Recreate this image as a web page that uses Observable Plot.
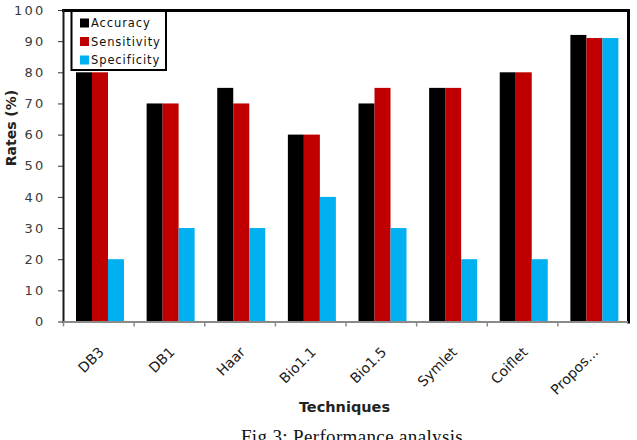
<!DOCTYPE html>
<html>
<head>
<meta charset="utf-8">
<script src="https://cdn.jsdelivr.net/npm/d3@7"></script>
<script src="https://cdn.jsdelivr.net/npm/@observablehq/plot@0.6"></script>
<style>
  body { margin: 0; background: #fff; }
  #chart svg { display: block; }
  .perf [aria-label="y-axis tick label"] text { letter-spacing: 2.2px; }
  .perf [aria-label="technique label"] text { letter-spacing: 0.8px; }
  .caption {
    font-family: "Liberation Serif", "Times New Roman", serif;
    font-size: 19px;
    line-height: 19px;
    letter-spacing: 0.35px;
    margin-top: 2px;
    padding-left: 67px;
    text-align: center;
    color: #111;
  }
</style>
</head>
<body>
<div id="chart"></div>
<div class="caption">Fig 3: Performance analysis</div>
<script>
// Wavelet techniques compared on three rates (%)
const techniques = ["DB3", "DB1", "Haar", "Bio1.1", "Bio1.5", "Symlet", "Coiflet", "Propos..."];
const metrics = ["Accuracy", "Sensitivity", "Specificity"];
const accuracy    = [80, 70, 75, 60, 70, 75, 80, 92];
const sensitivity = [80, 70, 70, 60, 75, 75, 80, 91];
const specificity = [20, 30, 30, 40, 30, 20, 20, 91];
const colors = ["#000000", "#C00000", "#00B0F0"];
const yTicks = d3.range(0, 101, 10);

const series = [accuracy, sensitivity, specificity];
const rows = techniques.flatMap((t, i) =>
  metrics.map((m, j) => ({technique: t, metric: m, value: series[j][i]}))
);

// layout
const width = 637, height = 425;
const marginLeft = 63, marginRight = 9, marginTop = 10, marginBottom = 103.5;
const step = (width - marginLeft - marginRight) / techniques.length;
const barW = 16, lead = 13;

// one bar mark per metric, placed side by side inside each technique band
const barMarks = metrics.map((m, j) =>
  Plot.barY(rows.filter(d => d.metric === m), {
    x: "technique",
    y: "value",
    fill: "metric",
    insetLeft: lead + j * barW,
    insetRight: step - lead - (j + 1) * barW
  })
);

const chart = Plot.plot({
  width, height, marginLeft, marginRight, marginTop, marginBottom,
  className: "perf",
  style: {fontFamily: "'DejaVu Sans', Verdana, sans-serif", background: "#fff", overflow: "visible"},
  x: {domain: techniques, padding: 0, round: false, axis: null},
  y: {domain: [0, 100], ticks: yTicks, axis: null},
  color: {domain: metrics, range: colors},
  marks: [
    ...barMarks,
    Plot.frame({anchor: "top", stroke: "#000", strokeWidth: 3}),
    Plot.frame({anchor: "right", stroke: "#000", strokeWidth: 3}),
    Plot.axisY({ticks: yTicks, tickSize: 5, tickPadding: 13, fontSize: 13, fill: "#3a3a3a", stroke: "#333", label: null}),
    Plot.axisX({tickSize: 5, text: null, dx: -step / 2, stroke: "#8a8a8a", strokeWidth: 1.5, label: null}),
    Plot.frame({anchor: "left", stroke: "#1a1a1a", strokeWidth: 2}),
    Plot.ruleY([0], {stroke: "#8a8a8a", strokeWidth: 2}),
    Plot.text(techniques, {
      x: d => d, text: d => d,
      frameAnchor: "bottom", dy: 31, dx: 6,
      rotate: -45, textAnchor: "end", lineAnchor: "bottom",
      fontSize: 14, fill: "#1a1a1a", ariaLabel: "technique label"
    }),
    Plot.text(["Techniques"], {
      text: d => d, frameAnchor: "bottom", dy: 89.5, dx: -1.5,
      fontSize: 14.5, fontWeight: "bold", fill: "#222"
    }),
    Plot.text(["Rates (%)"], {
      text: d => d, frameAnchor: "left", dx: -52, rotate: -90,
      fontSize: 14, fontWeight: "bold", fill: "#222"
    })
  ]
});

// legend box inside the plot area, top-left
const color = chart.scale("color");
const svg = d3.select(chart);
const legend = svg.append("g").attr("aria-label", "legend").attr("text-anchor", "start");
legend.append("rect")
  .attr("x", 71.5).attr("y", 11).attr("width", 94.5).attr("height", 59)
  .attr("fill", "#fff").attr("stroke", "#000").attr("stroke-width", 2);
const item = legend.selectAll("g.item").data(metrics).join("g")
  .attr("class", "item")
  .attr("transform", (d, i) => `translate(80, ${23 + i * 18.5})`);
item.append("rect")
  .attr("x", 0).attr("y", -4.5).attr("width", 9).attr("height", 9)
  .attr("fill", d => color.apply(d));
item.append("text")
  .attr("x", 11).attr("y", 0).attr("dy", "0.36em")
  .attr("text-anchor", "start")
  .attr("font-size", 11.5).attr("letter-spacing", "0.9px").attr("fill", "#111")
  .text(d => d);

document.getElementById("chart").append(chart);
</script>
</body>
</html>
